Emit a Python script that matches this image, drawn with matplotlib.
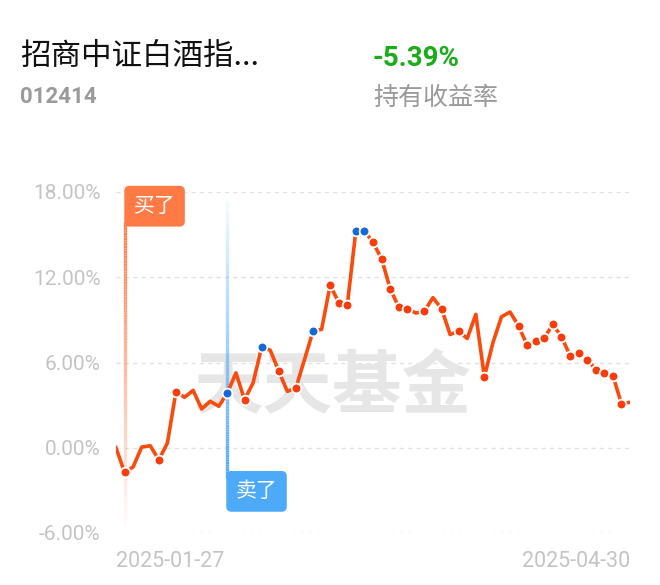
import matplotlib
matplotlib.use('Agg')
import matplotlib.pyplot as plt
import numpy as np
from matplotlib.collections import LineCollection
from matplotlib.colors import to_rgba

plt.rcParams['font.family'] = ['Roboto', 'Noto Sans CJK SC', 'DejaVu Sans']

# holding return (%) per trading day
returns = [0.00, -1.74, -1.35, 0.05, 0.14, -0.85, 0.33, 3.95, 3.55, 4.04,
           2.73, 3.27, 2.92, 3.86, 5.27, 3.39, 4.56, 7.08, 6.87, 5.39,
           3.97, 4.21, 6.20, 8.21, 8.33, 11.45, 10.21, 10.04, 15.27, 15.27,
           14.45, 13.30, 11.20, 9.90, 9.79, 9.48, 9.62, 10.56, 9.79, 7.97,
           8.21, 7.69, 9.39, 4.99, 7.40, 9.22, 9.55, 8.56, 7.20, 7.50,
           7.74, 8.68, 7.81, 6.49, 6.68, 6.21, 5.50, 5.27, 5.08, 3.10, 3.20]
red_pts = [1, 5, 7, 15, 19, 21, 25, 26, 27, 30, 31, 32, 33, 34, 36, 38, 40, 43,
           47, 48, 49, 50, 51, 52, 53, 54, 55, 56, 57, 58, 59]
blue_pts = [13, 17, 23, 28, 29]
buy_idx = 1
sell_idx = 13
yticks = [-6, 0, 6, 12, 18]
xlabels = ['2025-01-27', '2025-04-30']

fund_name = '招商中证白酒指...'
fund_code = '012414'
hold_ret = '-5.39%'

W, H = 660, 585
fig = plt.figure(figsize=(W / 100, H / 100), dpi=100)
fig.patch.set_facecolor('white')

# header
fig.text(20 / W, 1 - 56 / H, fund_name, fontsize=22, color='#111111',
         va='center', ha='left', family=['Noto Sans CJK SC', 'DejaVu Sans'])
fig.text(20 / W, 1 - 97 / H, fund_code, fontsize=16, color='#9a9a9a',
         fontweight='bold', va='center', ha='left')
fig.text(373 / W, 1 - 58 / H, hold_ret, fontsize=20, color='#1aad19',
         fontweight='bold', va='center', ha='left')
fig.text(373 / W, 1 - 98 / H, '持有收益率', fontsize=18, color='#9a9a9a',
         va='center', ha='left', family=['Noto Sans CJK SC', 'DejaVu Sans'])

ax = fig.add_axes([116 / W, 52 / H, (630 - 116) / W, (533 - 192) / H])
x = np.arange(len(returns))
ax.set_xlim(0, len(returns) - 1)
ax.set_ylim(-6, 18)
for s in ax.spines.values():
    s.set_visible(False)

for t in yticks:
    ax.axhline(t, color='#e2e2e2', lw=1, ls=(0, (3, 3)), zorder=0)
ax.set_yticks(yticks)
ax.set_yticklabels([f'{t:.2f}%' for t in yticks])
ax.tick_params(axis='y', length=0, pad=11, labelsize=15, labelcolor='#c4c4c4')
ax.set_xticks([0, len(returns) - 1])
ax.set_xticklabels(xlabels)
ax.tick_params(axis='x', length=0, pad=13, labelsize=15.5, labelcolor='#c4c4c4')
xl = ax.get_xticklabels()
xl[0].set_ha('left')
xl[1].set_ha('right')

# watermark
ax.text(25.3, 4.2, '天天基金', fontsize=50, color='#e6e6e6', fontweight='bold',
        ha='center', va='center', family=['Noto Sans CJK SC'], zorder=0)


def grad_line(xpos, y0, y1, color, a0, a1, n=120):
    ys = np.linspace(y0, y1, n + 1)
    segs = [[(xpos, ys[i]), (xpos, ys[i + 1])] for i in range(n)]
    base = np.array(to_rgba(color))
    alphas = np.linspace(a0, a1, n)
    cols = [(*base[:3], a) for a in alphas]
    lc = LineCollection(segs, colors=cols, linewidths=2.4, zorder=1,
                        clip_on=False, capstyle='butt')
    ax.add_collection(lc)


# buy line: solid at top, fading downward
grad_line(buy_idx, 15.9, -5.8, '#ff7a45', 1.0, 0.0)
# sell line: faded at top, solid at bottom
grad_line(sell_idx, 17.4, -2.1, '#4da6f5', 0.05, 1.0)

ax.plot(x, returns, color='#fa4b0c', lw=2.6, zorder=3, solid_joinstyle='round')
ax.plot(x[red_pts], np.array(returns)[red_pts], 'o', color='#fa3c0a', ms=7,
        mec='white', mew=1.3, zorder=4)
ax.plot(x[blue_pts], np.array(returns)[blue_pts], 'o', color='#1668d8', ms=7,
        mec='white', mew=1.3, zorder=5)

ax.annotate('买了', xy=(buy_idx, 17.0), xytext=(21.6, 0), textcoords='offset points',
            ha='center', va='center', fontsize=15, color='white',
            family=['Noto Sans CJK SC'], zorder=6, annotation_clip=False,
            bbox=dict(boxstyle='round,pad=0.45,rounding_size=0.25', fc='#ff7a45', ec='none'))
ax.annotate('卖了', xy=(sell_idx, -3.07), xytext=(21, 0), textcoords='offset points',
            ha='center', va='center', fontsize=15, color='white',
            family=['Noto Sans CJK SC'], zorder=6, annotation_clip=False,
            bbox=dict(boxstyle='round,pad=0.45,rounding_size=0.25', fc='#4daaf8', ec='none'))

fig.savefig('out.png', dpi=100)
